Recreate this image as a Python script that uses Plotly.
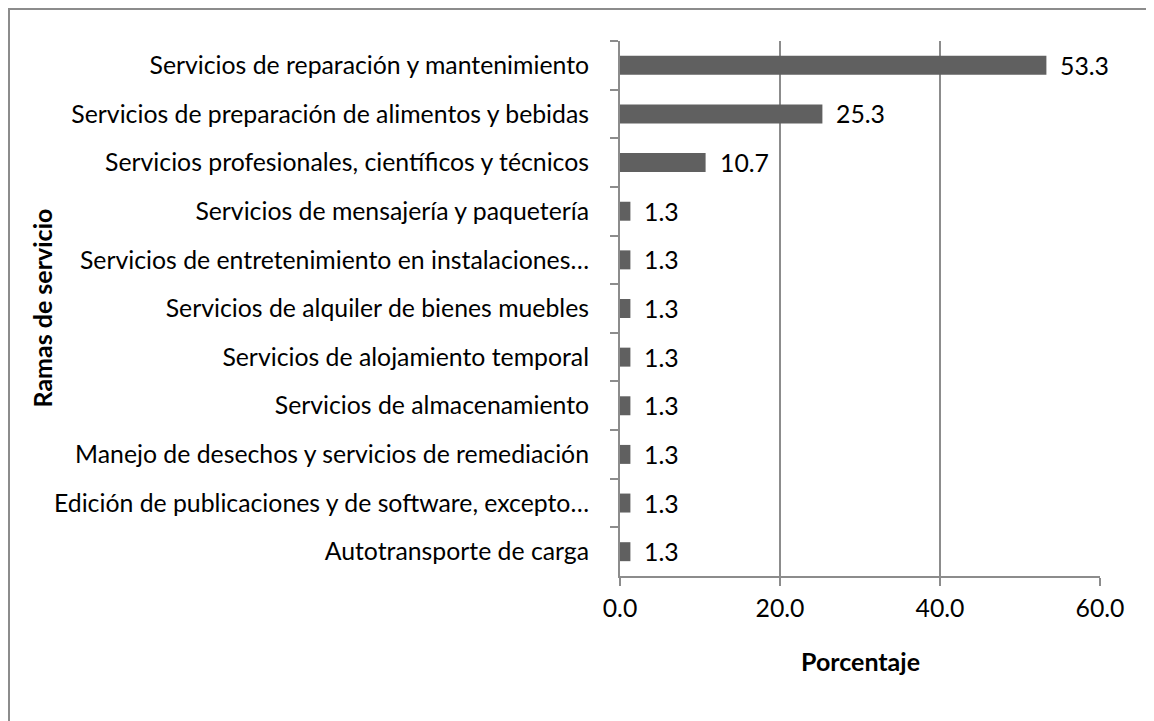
import plotly.graph_objects as go

categorias = [
    "Servicios de reparación y mantenimiento",
    "Servicios de preparación de alimentos y bebidas",
    "Servicios profesionales, científicos y técnicos",
    "Servicios de mensajería y paquetería",
    "Servicios de entretenimiento en instalaciones…",
    "Servicios de alquiler de bienes muebles",
    "Servicios de alojamiento temporal",
    "Servicios de almacenamiento",
    "Manejo de desechos y servicios de remediación",
    "Edición de publicaciones y de software, excepto…",
    "Autotransporte de carga",
]
porcentajes = [53.3, 25.3, 10.7, 1.3, 1.3, 1.3, 1.3, 1.3, 1.3, 1.3, 1.3]
ticks_x = [0, 20, 40, 60]

fuente = "Lato"
tam = 24.8
gris = "#8c8c8c"

# area de trazado (px dentro de la figura)
izq, der, arr, aba = 612, 1092, 33, 568
ancho, alto = der - izq, aba - arr

fig = go.Figure()
fig.add_trace(go.Bar(
    x=porcentajes, y=categorias, orientation="h",
    marker=dict(color="#606060", line=dict(width=0)),
    width=0.39,
))

# etiquetas de datos
etiquetas = [
    dict(x=v, y=c, text=f"{v:.1f}", xref="x", yref="y", xanchor="left",
         xshift=12, showarrow=False, font=dict(family=fuente, size=tam, color="black"))
    for c, v in zip(categorias, porcentajes)
]

fig.update_layout(
    width=1154, height=721,
    margin=dict(l=izq, r=1154 - der, t=arr, b=721 - aba),
    paper_bgcolor="white", plot_bgcolor="white",
    showlegend=False,
    font=dict(family=fuente, size=tam, color="black"),
    xaxis=dict(
        range=[0, 60], tickvals=ticks_x, ticktext=[f"{v:.1f}" for v in ticks_x],
        showgrid=True, gridcolor=gris, gridwidth=1.5,
        showline=True, linecolor=gris, linewidth=2,
        ticks="outside", ticklen=8, tickcolor=gris, tickwidth=2,
        zeroline=False, automargin=False, ticklabelstandoff=1,
    ),
    yaxis=dict(
        autorange="reversed", showgrid=False,
        showline=True, linecolor=gris, linewidth=2,
        ticks="outside", ticklen=8, tickcolor=gris, tickwidth=2,
        tickson="boundaries", ticklabelstandoff=24, automargin=False,
    ),
    shapes=[dict(
        type="rect", xref="paper", yref="paper",
        x0=(1 - izq) / ancho, x1=2, y0=-0.5, y1=(aba - 1) / alto,
        line=dict(color=gris, width=2), fillcolor="rgba(0,0,0,0)", layer="below",
    )],
    annotations=etiquetas + [
        dict(text="<b>Ramas de servicio</b>", xref="paper", yref="paper",
             x=(33 - izq) / ancho, y=0.5, xanchor="center", yanchor="middle",
             textangle=-90, showarrow=False,
             font=dict(family=fuente, size=25)),
        dict(text="<b>Porcentaje</b>", xref="paper", yref="paper",
             x=0.5, y=(aba - 653) / alto, xanchor="center", yanchor="middle",
             showarrow=False,
             font=dict(family=fuente, size=25)),
    ],
)

fig.write_html("out.html")
